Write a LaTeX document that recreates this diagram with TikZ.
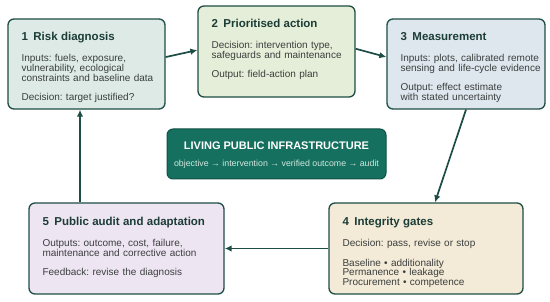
\documentclass[tikz,border=0pt]{standalone}
\usepackage{fontspec}
\setmainfont{Liberation Sans}
\usetikzlibrary{arrows.meta,positioning,calc}

\definecolor{edge}{HTML}{1E4D45}
\definecolor{ttl}{HTML}{1C3D37}
\definecolor{body}{HTML}{3B3F3E}
\definecolor{fillA}{HTML}{DDEAE5}
\definecolor{fillB}{HTML}{E5EED8}
\definecolor{fillC}{HTML}{DEE7EE}
\definecolor{fillD}{HTML}{F3EAD7}
\definecolor{fillE}{HTML}{EEE5F3}
\definecolor{hubfill}{HTML}{16705F}
\definecolor{hubedge}{HTML}{0F5246}
\definecolor{hubsub}{HTML}{D3E8E0}

\frenchspacing
\newcommand\stagetitle[2]{{\fontsize{11.5}{12}\selectfont\bfseries\color{ttl}#1\hspace{5.5pt}#2\par}\vspace{11.3pt}}
\newcommand\paragap{\par\vspace{9.6pt}}

\tikzset{
  stage/.style={draw=edge, line width=1.3pt, rounded corners=6pt, inner sep=0pt},
  stagetext/.style={anchor=north west, inner sep=0pt, text width=#1, align=left,
    font=\fontsize{10}{9.7}\selectfont\frenchspacing, text=body},
  flow/.style={draw=edge, line width=1.7pt, -{Latex[length=7pt,width=6.5pt]}},
}

\begin{document}
\begin{tikzpicture}[x=1pt, y=-1pt]
  \useasboundingbox (0,0) rectangle (550,302);

  % stage boxes
  \node[stage, fill=fillA, minimum width=157pt, minimum height=90pt] (b1) at (86.5,64) {};
  \node[stage, fill=fillB, minimum width=157pt, minimum height=91pt] (b2) at (276.5,51.5) {};
  \node[stage, fill=fillC, minimum width=158pt, minimum height=90pt] (b3) at (466,64) {};
  \node[stage, fill=fillD, minimum width=194pt, minimum height=91pt] (b4) at (426,248.5) {};
  \node[stage, fill=fillE, minimum width=195pt, minimum height=91pt] (b5) at (126.5,248.5) {};

  % stage texts
  \node[stagetext=200pt] (t1) at ([shift={(14pt,-14pt)}]b1.north west)
    {\stagetitle{1}{Risk diagnosis}
     Inputs: fuels, exposure,\\ vulnerability, ecological\\ constraints and baseline data\paragap
     Decision: target justified?};
  \node[stagetext=200pt] (t2) at ([shift={(14pt,-14pt)}]b2.north west)
    {\stagetitle{2}{Prioritised action}
     Decision: intervention type,\\ safeguards and maintenance\paragap
     Output: field-action plan};
  \node[stagetext=200pt] (t3) at ([shift={(14pt,-14pt)}]b3.north west)
    {\stagetitle{3}{Measurement}
     Inputs: plots, calibrated remote\\ sensing and life-cycle evidence\paragap
     Output: effect estimate\\ with stated uncertainty};
  \node[stagetext=200pt] (t4) at ([shift={(14pt,-15pt)}]b4.north west)
    {\stagetitle{4}{Integrity gates}
     Decision: pass, revise or stop\paragap
     Baseline \textbullet{} additionality\\ Permanence \textbullet{} leakage\\ Procurement \textbullet{} competence};
  \node[stagetext=200pt] (t5) at ([shift={(14pt,-15pt)}]b5.north west)
    {\stagetitle{5}{Public audit and adaptation}
     Outputs: outcome, cost, failure,\\ maintenance and corrective action\paragap
     Feedback: revise the diagnosis};

  % central hub
  \node[draw=hubedge, fill=hubfill, line width=1pt, rounded corners=6pt,
        minimum width=219pt, minimum height=50pt] (hub) at (276.5,154) {};
  \node[text=white, font=\fontsize{11}{12}\selectfont\bfseries] (hubtitle) at (276.5,146)
    {LIVING PUBLIC INFRASTRUCTURE};
  \node[text=hubsub, font=\fontsize{8.8}{10}\selectfont] (hubsub) at (276.5,164.5)
    {objective → intervention → verified outcome → audit};

  % cycle
  \draw[flow] (b1.5) -- (b2.179);
  \draw[flow] (b2.2) -- (b3.175);
  \draw[flow] (b3.south) -- ([xshift=9pt]b4.north);
  \draw[flow] (b4.west) -- (b5.east);
  \draw[flow] ([xshift=-6.5pt]b1.south |- b5.north) -- ([xshift=-6.5pt]b1.south);
\end{tikzpicture}
\end{document}
